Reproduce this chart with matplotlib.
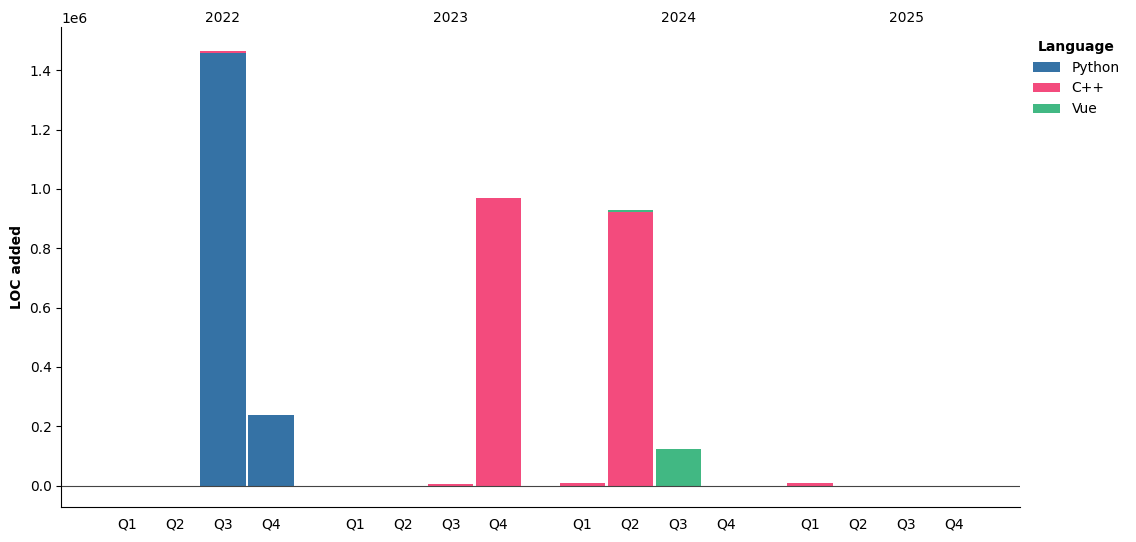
import numpy as np
import matplotlib.pyplot as plt

years = ["2022", "2023", "2024", "2025"]
quarters = ["Q1", "Q2", "Q3", "Q4"]
languages = ["Python", "C++", "Vue"]
colors = {"Python": "#3572A5", "C++": "#F34B7D", "Vue": "#41B883"}

# LOC added per quarter (16 quarters: 2022 Q1 .. 2025 Q4)
python_loc = [0, 0, 1458000, 237000, 0, 0, 0, 0, 0, 0, 0, 0, 0, 0, 0, 0]
cpp_loc = [0, 0, 8000, 0, 0, 0, 6000, 970000, 8000, 922000, 0, 0, 8000, 0, 0, 0]
vue_loc = [0, 0, 0, 0, 0, 0, 0, 0, 0, 6000, 122000, 0, 0, 0, 0, 0]
# small net removals
python_neg = [0, 0, 0, -5000, 0, 0, 0, 0, 0, 0, 0, 0, 0, 0, 0, 0]
cpp_neg = [0, 0, 0, 0, 0, 0, 0, 0, 0, 0, 0, 0, 0, -2500, 0, 0]

series = {"Python": python_loc, "C++": cpp_loc, "Vue": vue_loc}
negs = {"Python": python_neg, "C++": cpp_neg}

# x positions: quarters within a year 1 apart, gap between years
x = []
for yi in range(len(years)):
    for qi in range(len(quarters)):
        x.append(yi * 4.75 + qi)
x = np.array(x)

fig, ax = plt.subplots(figsize=(11.36, 5.42), dpi=100)
width = 0.95

bottom = np.zeros(len(x))
for lang in languages:
    vals = np.array(series[lang], dtype=float)
    ax.bar(x, vals, width, bottom=bottom, color=colors[lang], label=lang)
    bottom += vals

nbottom = np.zeros(len(x))
for lang in ["Python", "C++"]:
    vals = np.array(negs[lang], dtype=float)
    ax.bar(x, vals, width, bottom=nbottom, color=colors[lang])
    nbottom += vals

ax.axhline(0, color="#444444", linewidth=0.8)

ax.set_xticks(x)
ax.set_xticklabels(quarters * len(years))
ax.tick_params(axis="x", length=0, pad=8)
for yi, yr in enumerate(years):
    ax.text(yi * 4.75 + 2, 1.005, yr, transform=ax.get_xaxis_transform(),
            ha="center", va="bottom", fontsize=10)

ax.set_xlim(-1.37, 18.63)
ax.set_ylim(-71000, 1545000)
ax.set_ylabel("LOC added", fontweight="bold")
ax.spines["top"].set_visible(False)
ax.spines["right"].set_visible(False)

leg = ax.legend(title="Language", loc="upper left", bbox_to_anchor=(1.0, 1.0),
                frameon=False, title_fontproperties={"weight": "bold"})

plt.subplots_adjust(left=0.054, right=0.898, top=0.95, bottom=0.065)
plt.savefig("out.png", dpi=100)
